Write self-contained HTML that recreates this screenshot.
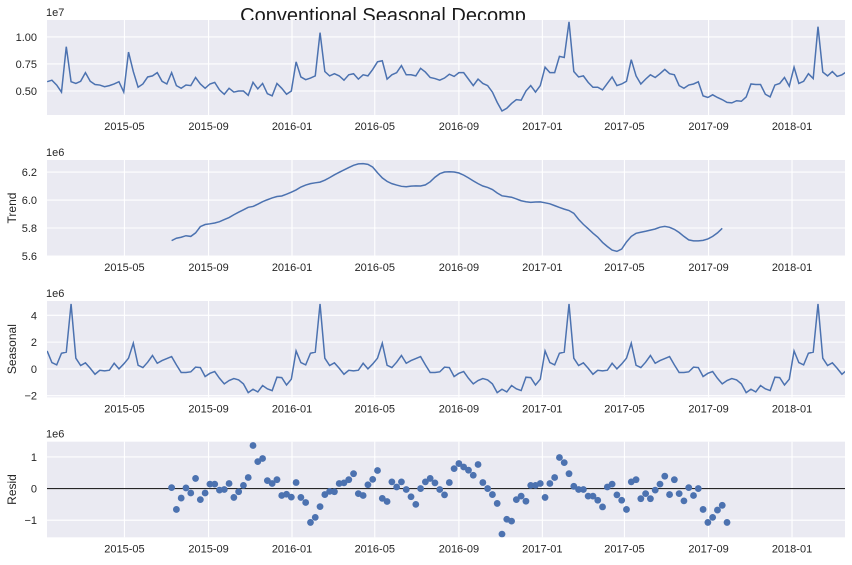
<!DOCTYPE html>
<html><head><meta charset="utf-8"><style>
html,body{margin:0;padding:0;background:#fff;}
svg{display:block;font-family:"Liberation Sans",sans-serif;}
</style></head><body>
<svg id="fig" width="852" height="565" viewBox="0 0 852 565" xmlns="http://www.w3.org/2000/svg">
<text x="383" y="22" text-anchor="middle" font-size="20" fill="#1a1a1a">Conventional Seasonal Decomp</text>
</svg>
<script>
const startDate = "2015-01-08";
const observed = [0.586,0.60,0.555,0.49,0.91,0.586,0.57,0.59,0.67,0.59,0.56,0.555,0.54,0.55,0.565,0.586,0.49,0.86,0.68,0.535,0.565,0.63,0.64,0.67,0.59,0.565,0.67,0.55,0.525,0.555,0.55,0.625,0.565,0.525,0.565,0.58,0.51,0.47,0.525,0.49,0.50,0.50,0.46,0.58,0.52,0.57,0.475,0.455,0.57,0.525,0.47,0.50,0.77,0.63,0.605,0.62,0.64,1.04,
0.68,0.64,0.66,0.64,0.60,0.65,0.66,0.61,0.65,0.64,0.70,0.77,0.78,0.61,0.65,0.67,0.735,0.65,0.65,0.64,0.71,0.675,0.625,0.615,0.60,0.62,0.655,0.635,0.67,0.67,0.61,0.55,0.61,0.57,0.55,0.49,0.395,0.315,0.34,0.385,0.42,0.415,0.50,0.55,0.49,0.55,0.72,0.67,0.67,0.82,0.81,1.14,0.68,0.63,0.64,0.58,0.535,
0.535,0.51,0.57,0.63,0.55,0.565,0.59,0.79,0.64,0.565,0.61,0.65,0.625,0.66,0.70,0.66,0.65,0.55,0.525,0.555,0.565,0.585,0.455,0.44,0.465,0.44,0.42,0.395,0.39,0.41,0.405,0.445,0.565,0.56,0.56,0.47,0.445,0.555,0.57,0.625,0.545,0.72,0.57,0.59,0.66,0.615,1.095,0.675,0.64,0.68,0.635,0.65,0.68,0.67];
const trendStart = 26;
const trend = [5.71,5.727,5.734,5.745,5.74,5.765,5.81,5.825,5.83,5.836,5.845,5.86,5.875,5.895,5.913,5.93,5.948,5.954,5.97,5.988,6.002,6.015,6.025,6.029,6.042,6.056,6.072,6.093,6.107,6.117,6.123,6.128,6.142,6.16,6.18,6.198,6.215,6.232,6.248,6.258,6.26,6.255,6.235,6.195,6.158,6.133,6.117,6.107,6.098,6.095,6.099,6.101,6.1,6.108,6.13,6.163,6.188,6.2,6.202,6.2,6.193,6.178,6.158,6.137,6.117,6.1,6.09,6.075,6.05,6.03,6.025,6.02,6.008,5.995,5.988,5.983,5.986,5.987,5.98,5.973,5.96,5.947,5.935,5.925,5.905,5.862,5.826,5.795,5.763,5.735,5.697,5.668,5.642,5.633,5.65,5.7,5.74,5.762,5.77,5.777,5.785,5.793,5.806,5.812,5.805,5.79,5.768,5.74,5.715,5.708,5.708,5.712,5.722,5.74,5.765,5.798];
const seasonalYear = [1.34,0.47,0.3,1.17,1.25,4.85,0.8,0.25,0.45,0.05,-0.4,-0.1,-0.15,-0.1,0.42,0.0,0.37,0.8,1.92,0.27,0.1,0.5,1.0,0.42,0.62,0.77,0.92,0.3,-0.27,-0.27,-0.22,0.13,0.1,-0.57,-0.33,-0.2,-0.7,-1.12,-0.87,-0.72,-0.82,-1.12,-1.77,-1.52,-1.72,-1.24,-1.49,-1.62,-0.62,-0.65,-1.2,-0.77];
const residStart = 26;
const resid = [0.03,-0.66,-0.3,0.02,-0.14,0.32,-0.35,-0.14,0.14,0.14,-0.05,-0.03,0.16,-0.28,-0.1,0.1,0.35,1.36,0.85,0.95,0.25,0.16,0.28,-0.22,-0.18,-0.27,0.19,-0.28,-0.44,-1.07,-0.91,-0.57,-0.19,-0.09,-0.1,0.16,0.18,0.28,0.47,-0.16,-0.22,0.12,0.29,0.57,-0.31,-0.41,0.21,0.05,0.21,-0.03,-0.26,-0.5,0.0,0.21,0.32,0.18,-0.03,-0.2,0.19,0.63,0.79,0.68,0.58,0.42,0.76,0.19,0.0,-0.19,-0.47,-1.44,-0.97,-1.03,-0.35,-0.24,-0.4,0.1,0.1,0.16,-0.28,0.16,0.35,0.98,0.82,0.47,0.07,-0.03,-0.03,-0.24,-0.24,-0.37,-0.58,0.05,0.14,-0.2,-0.37,-0.66,0.21,0.28,-0.32,-0.16,-0.32,-0.05,0.14,0.39,-0.19,0.28,-0.16,-0.39,0.03,-0.22,0.0,-0.66,-1.07,-0.91,-0.68,-0.53,-1.07];
const xTickLabels = ["2015-05","2015-09","2016-01","2016-05","2016-09","2017-01","2017-05","2017-09","2018-01"];

const NS="http://www.w3.org/2000/svg";
const svg=document.getElementById('fig');
const L=47,R=845;
const DAY=86400000;
const t0=Date.UTC(2016,0,1);
function x(ms){return 292+(ms-t0)/DAY*0.684;}
function dateOf(i){const p=startDate.split('-');return Date.UTC(+p[0],+p[1]-1,+p[2])+i*7*DAY;}
function tickMs(s){const p=s.split('-');return Date.UTC(+p[0],+p[1]-1,1);}
function el(tag,attrs,parent){const e=document.createElementNS(NS,tag);for(const k in attrs)e.setAttribute(k,attrs[k]);(parent||svg).appendChild(e);return e;}

const panels=[
 {name:'observed',top:20,bot:115,lo:0.278,hi:1.157,ticks:[0.5,0.75,1.0],fmt:v=>v.toFixed(2),off:'1e7',ylabel:null},
 {name:'trend',top:160,bot:256,lo:5.6,hi:6.286,ticks:[5.6,5.8,6.0,6.2],fmt:v=>v.toFixed(1),off:'1e6',ylabel:'Trend'},
 {name:'seasonal',top:301,bot:397.3,lo:-2.12,hi:5.07,ticks:[-2,0,2,4],fmt:v=>(v<0?'\u2212'+(-v):''+v),off:'1e6',ylabel:'Seasonal'},
 {name:'resid',top:441.7,bot:537.3,lo:-1.54,hi:1.48,ticks:[-1,0,1],fmt:v=>(v<0?'\u2212'+(-v):''+v),off:'1e6',ylabel:'Resid'}
];
panels.forEach(p=>{
 p.y=v=>p.bot-(v-p.lo)/(p.hi-p.lo)*(p.bot-p.top);
 const g=el('g',{});
 
 
 const bg=el('rect',{x:L,y:p.top,width:R-L,height:p.bot-p.top,fill:'#EAEAF2'},g);
 
 
 const cid='clip-'+p.name;
 const cp=el('clipPath',{id:cid},g);el('rect',{x:L,y:p.top,width:R-L,height:p.bot-p.top},cp);
 xTickLabels.forEach(s=>{
  const xx=x(tickMs(s));
  const gl=el('line',{x1:xx,x2:xx,y1:p.top,y2:p.bot,stroke:'#fff','stroke-width':1.1},g);
  
  
  const t=el('text',{x:xx,y:p.bot+15,'text-anchor':'middle','font-size':11,fill:'#262626'},g);
  
  
  t.textContent=s;
 });
 p.ticks.forEach(v=>{
  const yy=p.y(v);
  const gl=el('line',{x1:L,x2:R,y1:yy,y2:yy,stroke:'#fff','stroke-width':1.1},g);
  
  
  const t=el('text',{x:37,y:yy+4,'text-anchor':'end','font-size':11,fill:'#262626'},g);
  
  
  t.textContent=p.fmt(v);
 });
 const o=el('text',{x:46,y:p.top-4,'font-size':11,fill:'#262626'},g);
 
 
 o.textContent=p.off;
 if(p.ylabel){
  const cy=(p.top+p.bot)/2;
  const yl=el('text',{x:0,y:0,transform:'translate(16,'+cy+') rotate(-90)','text-anchor':'middle','font-size':12,fill:'#262626'},g);
  
  
  yl.textContent=p.ylabel;
 }
 p.g=g;p.clip='url(#'+cid+')';
});
function linePath(p,vals,start){
 return vals.map((v,k)=>(k?'L':'M')+x(dateOf(start+k)).toFixed(2)+','+p.y(v).toFixed(2)).join(' ');
}
// observed
let pl=el('path',{d:linePath(panels[0],observed,0),fill:'none',stroke:'#4C72B0','stroke-width':1.5,'clip-path':panels[0].clip},panels[0].g);


// trend
pl=el('path',{d:linePath(panels[1],trend,trendStart),fill:'none',stroke:'#4C72B0','stroke-width':1.5,'clip-path':panels[1].clip},panels[1].g);


// seasonal
const seasonal=observed.map((_,i)=>seasonalYear[i%seasonalYear.length]);
pl=el('path',{d:linePath(panels[2],seasonal,0),fill:'none',stroke:'#4C72B0','stroke-width':1.5,'clip-path':panels[2].clip},panels[2].g);


// resid
const p4=panels[3];
const zl=el('line',{x1:L,x2:R,y1:p4.y(0),y2:p4.y(0),stroke:'#262626','stroke-width':1.2},p4.g);


resid.forEach((v,k)=>{
 const c=el('circle',{cx:x(dateOf(residStart+k)),cy:p4.y(v),r:3.4,fill:'#4C72B0','clip-path':p4.clip},p4.g);
 
 
});
</script>
</body></html>
